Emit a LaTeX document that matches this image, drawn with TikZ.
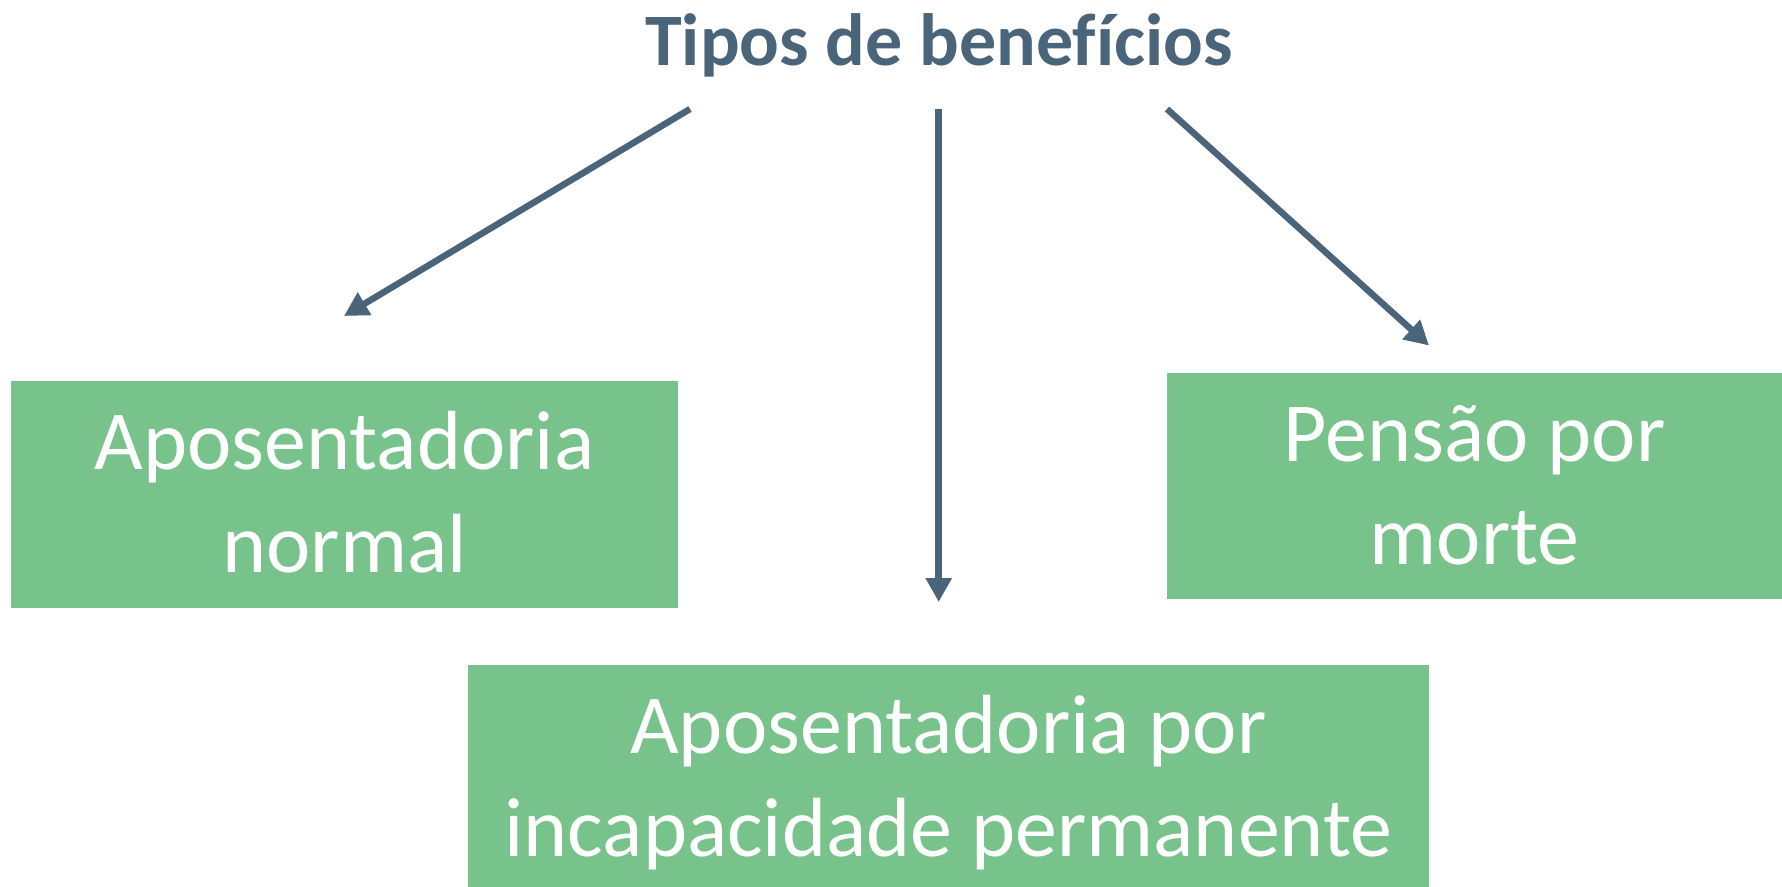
\documentclass[tikz,border=0pt]{standalone}
\usepackage{fontspec}
\setmainfont{Carlito}[Ligatures={TeX,NoCommon}]
\usetikzlibrary{arrows.meta}
\definecolor{slate}{HTML}{4A6479}
\definecolor{boxgreen}{HTML}{78C38B}
\newcommand{\twolines}[2]{\rule{0pt}{73pt}#1\\#2\rule[-20pt]{0pt}{0pt}}
\tikzset{
  greenbox/.style={draw=none, fill=boxgreen, text=white, align=center, inner sep=0pt,
    font=\fontsize{84}{103}\selectfont},
  arr/.style={draw=slate, line width=6.5pt, -{Triangle[length=24pt,width=25pt]}},
}
\begin{document}
\begin{tikzpicture}[x=1pt,y=-1pt]
\useasboundingbox (0,0) rectangle (1782,886);
\node[font=\fontsize{74}{88}\selectfont\bfseries, text=slate, anchor=base] (title) at (939,65) {Tipos de benefícios};
\node[greenbox, minimum width=667pt, minimum height=227pt] (normal) at (344.5,494.5) {\twolines{Aposentadoria}{normal}};
\node[greenbox, minimum width=615pt, minimum height=226pt] (morte) at (1474.5,486) {\twolines{Pensão por}{morte}};
\node[greenbox, minimum width=961pt, minimum height=227pt] (incap) at (948.5,778.5) {\twolines{Aposentadoria por}{incapacidade permanente}};
\coordinate (s1) at (690,109);
\coordinate (e1) at (344,316);
\coordinate (s2) at (938.7,109);
\coordinate (e2) at (938.7,602);
\coordinate (s3) at (1167,109);
\coordinate (e3) at (1429,345.5);
\draw[arr] (s1) -- (e1);
\draw[arr] (s2) -- (e2);
\draw[arr] (s3) -- (e3);
\end{tikzpicture}
\end{document}
